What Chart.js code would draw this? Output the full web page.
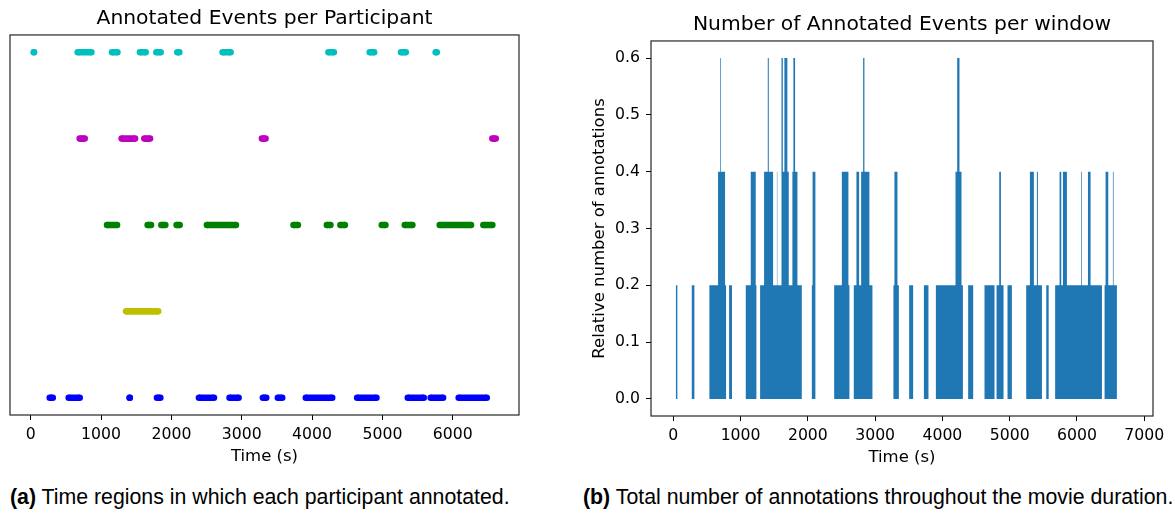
<!DOCTYPE html>
<html>
<head>
<meta charset="utf-8">
<script src="https://cdn.jsdelivr.net/npm/chart.js@4/dist/chart.umd.min.js"></script>
<style>
  body { margin: 0; background: #fff; width: 1175px; height: 516px; position: relative; overflow: hidden; }
  canvas { position: absolute; top: 0; }
  .cap { position: absolute; top: 485px; font: 21.3px/24px "Liberation Sans", Arial, sans-serif; color: #000; white-space: nowrap; }
</style>
</head>
<body>
<canvas id="chart-a" width="540" height="470" style="left:0"></canvas>
<canvas id="chart-b" width="644" height="470" style="left:580px"></canvas>
<div class="cap" style="left:10px"><b>(a)</b> Time regions in which each participant annotated.</div>
<div class="cap" style="left:583px"><b>(b)</b> Total number of annotations throughout the movie duration.</div>
<script>
// annotated time spans (s) per participant, one row each, [start, end]
const eventsP1 = [[270, 313], [540, 696], [1407, 1407], [1795, 1842], [2392, 2605], [2827, 2955], [3301, 3348], [3514, 3575], [3911, 4286], [4641, 4915], [5361, 5588], [5687, 5862], [6085, 6483]];
const eventsP2 = [[1356, 1812]];
const eventsP3 = [[1085, 1227], [1662, 1710], [1857, 1913], [2074, 2117], [2505, 2917], [3736, 3798], [4210, 4261], [4403, 4466], [4991, 5043], [5318, 5426], [5815, 6260], [6435, 6563]];
const eventsP4 = [[696, 767], [1293, 1483], [1615, 1696], [3287, 3338], [6563, 6611]];
const eventsP5 = [[45, 45], [668, 862], [1156, 1232], [1553, 1634], [1786, 1847], [2084, 2112], [2728, 2841], [4233, 4310], [4820, 4882], [5265, 5332], [5758, 5772]];

// windows with a constant share of annotating participants
const winStart = [36, 274, 536, 665, 695, 705, 769, 829, 1077, 1151, 1225,
  1290, 1349, 1404, 1419, 1483, 1540, 1546, 1608, 1628, 1651, 1695, 1716, 1770, 1785, 1810, 1845,
  2059, 2070, 2391, 2505, 2603, 2683, 2722, 2762, 2792, 2822, 2841, 2915,
  3272, 3287, 3332, 3506, 3725, 3903, 4195, 4220, 4254, 4284, 4383, 4626,
  4805, 4845, 4870, 4968, 5246, 5301, 5360, 5405, 5420, 5544,
  5676, 5742, 5767, 5792, 5851, 6062, 6072, 6164, 6203, 6411, 6426, 6466, 6535, 6545];
const winEnd = [60, 313, 665, 695, 705, 769, 784, 872, 1151, 1225, 1235,
  1349, 1404, 1419, 1483, 1540, 1546, 1608, 1628, 1651, 1695, 1716, 1770, 1785, 1810, 1845, 1910,
  2070, 2112, 2505, 2603, 2618, 2722, 2762, 2792, 2822, 2841, 2915, 2960,
  3287, 3332, 3353, 3565, 3793, 4195, 4220, 4254, 4284, 4305, 4458, 4775,
  4845, 4870, 4909, 5033, 5301, 5360, 5405, 5420, 5480, 5580,
  5742, 5767, 5792, 5851, 6062, 6072, 6164, 6203, 6372, 6426, 6466, 6535, 6545, 6595];
const winValue = [0.2, 0.2, 0.2, 0.4, 0.6, 0.4, 0.2, 0.2, 0.2, 0.4, 0.2,
  0.2, 0.4, 0.6, 0.4, 0.2, 0.4, 0.2, 0.6, 0.4, 0.6, 0.4, 0.2, 0.4, 0.6, 0.4, 0.2,
  0.2, 0.4, 0.2, 0.4, 0.2, 0.2, 0.4, 0.2, 0.4, 0.6, 0.4, 0.2,
  0.2, 0.4, 0.2, 0.2, 0.2, 0.2, 0.4, 0.6, 0.4, 0.2, 0.2, 0.2,
  0.2, 0.4, 0.2, 0.2, 0.2, 0.4, 0.2, 0.4, 0.2, 0.2,
  0.2, 0.4, 0.2, 0.4, 0.2, 0.4, 0.2, 0.4, 0.2, 0.2, 0.4, 0.2, 0.4, 0.2];

const timeTicksA = [0, 1000, 2000, 3000, 4000, 5000, 6000];
const timeTicksB = [0, 1000, 2000, 3000, 4000, 5000, 6000, 7000];
const shareTicks = [0, 0.1, 0.2, 0.3, 0.4, 0.5, 0.6];

const participants = [eventsP1, eventsP2, eventsP3, eventsP4, eventsP5];
const rowColors = ["#0000ff", "#bfbf00", "#008000", "#bf00bf", "#00bfbf"];

Chart.defaults.font.family = "'DejaVu Sans', sans-serif";
Chart.defaults.color = "#000";

// full box around the plotting area
const boxFrame = {
  id: "boxFrame",
  afterDraw(chart) {
    const { ctx, chartArea: a } = chart;
    ctx.save();
    ctx.strokeStyle = "#262626";
    ctx.lineWidth = 1.2;
    ctx.strokeRect(a.left, a.top, a.right - a.left, a.bottom - a.top);
    ctx.restore();
  }
};

const tickGrid = { drawOnChartArea: false, tickLength: 5, tickColor: "#000", tickWidth: 1 };

function xAxis(min, max, ticks) {
  return {
    type: "linear",
    min: min,
    max: max,
    afterBuildTicks: axis => { axis.ticks = ticks.map(v => ({ value: v })); },
    afterFit: axis => { axis.height = 52; },
    grid: tickGrid,
    border: { display: false },
    ticks: { padding: 6, font: { size: 15.7 }, color: "#000", callback: v => String(v) },
    title: { display: true, text: "Time (s)", font: { size: 16.5 }, color: "#000", padding: 0 }
  };
}

// (a) one row of dots per participant
new Chart(document.getElementById("chart-a"), {
  type: "line",
  data: {
    datasets: participants.map((runs, row) => ({
      data: runs.flatMap(([s, e]) => [{ x: s, y: row }, { x: e, y: row }, { x: e, y: null }]),
      borderColor: rowColors[row],
      backgroundColor: rowColors[row],
      borderWidth: 6.6,
      pointRadius: 3.3,
      pointBorderWidth: 0,
      spanGaps: false,
      fill: false
    }))
  },
  options: {
    responsive: false,
    animation: false,
    events: [],
    layout: { padding: { left: 10, right: 21, top: 0, bottom: 3 } },
    plugins: {
      legend: { display: false },
      tooltip: { enabled: false },
      title: {
        display: true,
        text: "Annotated Events per Participant",
        font: { size: 20.3, weight: "normal" },
        color: "#000",
        padding: { top: 7, bottom: 3.6 }
      }
    },
    scales: {
      x: xAxis(-295, 6942, timeTicksA),
      y: { type: "linear", min: -0.2, max: 4.2, display: false }
    }
  },
  plugins: [boxFrame]
});

// (b) share of participants annotating, drawn as filled steps
const stepPoints = [];
winStart.forEach((s, i) => {
  stepPoints.push({ x: s, y: winValue[i] });
  if (winStart[i + 1] !== winEnd[i]) stepPoints.push({ x: winEnd[i], y: 0 });
});

new Chart(document.getElementById("chart-b"), {
  type: "line",
  data: {
    datasets: [{
      data: stepPoints,
      stepped: true,
      fill: "origin",
      backgroundColor: "#1f77b4",
      borderColor: "rgba(0,0,0,0)",
      borderWidth: 0,
      pointRadius: 0
    }]
  },
  options: {
    responsive: false,
    animation: false,
    events: [],
    layout: { padding: { left: 10, right: 10, top: 0, bottom: 2 } },
    plugins: {
      legend: { display: false },
      tooltip: { enabled: false },
      title: {
        display: true,
        text: "Number of Annotated Events per window",
        font: { size: 20.3, weight: "normal" },
        color: "#000",
        padding: { top: 13, bottom: 3.6 }
      }
    },
    scales: {
      x: xAxis(-332, 7131, timeTicksB),
      y: {
        type: "linear",
        min: -0.03,
        max: 0.63,
        afterBuildTicks: axis => { axis.ticks = shareTicks.map(v => ({ value: v })); },
        afterFit: axis => { axis.width = 61; },
        grid: tickGrid,
        border: { display: false },
        ticks: { padding: 6, font: { size: 15.7 }, color: "#000", callback: v => v.toFixed(1) },
        title: { display: true, text: "Relative number of annotations", font: { size: 16.5 }, color: "#000", padding: 0 }
      },
      // empty spacer on the right so the title is centred over the plot
      spacer: {
        position: "right",
        display: true,
        grid: { display: false },
        border: { display: false },
        ticks: { display: false },
        afterFit: axis => { axis.width = 61; }
      }
    }
  },
  plugins: [boxFrame]
});
</script>
</body>
</html>
